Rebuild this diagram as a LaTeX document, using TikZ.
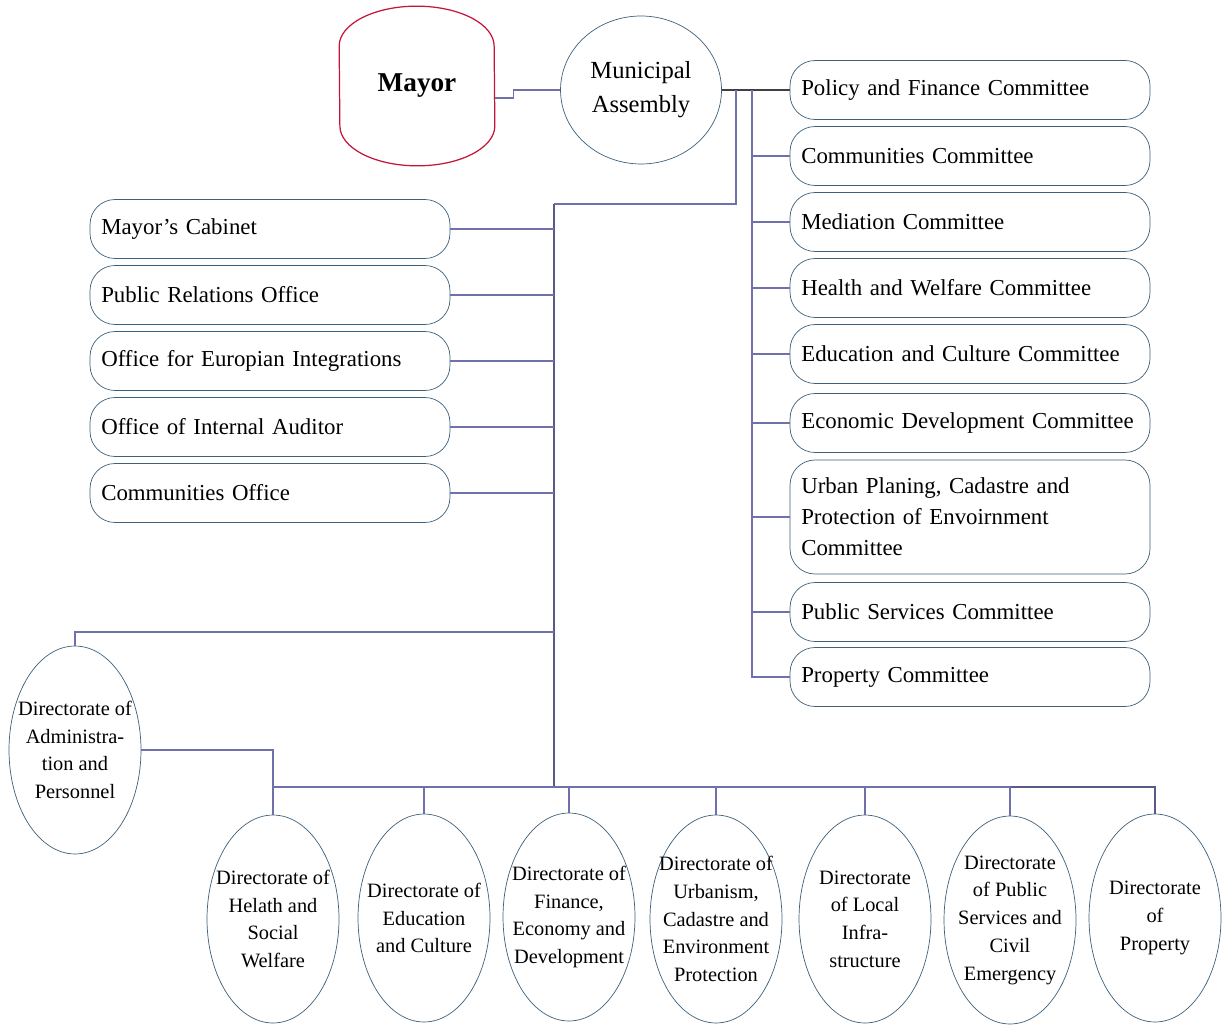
\documentclass[tikz,border=0pt]{standalone}
\usepackage{fontspec}
\setmainfont{Liberation Serif}
\usepackage{tikz}
\usetikzlibrary{positioning, shapes.geometric}

\definecolor{linkblue}{RGB}{112,112,170}
\definecolor{edgeblue}{RGB}{62,96,122}
\definecolor{mayorred}{RGB}{196,20,56}
\definecolor{darkline}{RGB}{64,64,72}

\tikzset{
    comm/.style={draw=edgeblue, rounded corners=0.5cm, minimum height=1.18cm, text width=6.75cm, inner xsep=0.225cm, align=left, font=\fontsize{13}{17.6}\selectfont},
    dir/.style={draw=edgeblue, ellipse, minimum width=2.64cm, minimum height=4.16cm, inner sep=0pt},
    dirtext/.style={align=center, font=\fontsize{11.6}{15.8}\selectfont},
    link/.style={draw=linkblue, line width=0.6pt},
    trunk/.style={draw=linkblue!80!black, line width=0.9pt}
}

\begin{document}
\begin{tikzpicture}[x=0.02cm, y=-0.02cm]
                    \useasboundingbox (0,0) rectangle (1226,1026);
                    \node[font=\fontsize{15.5}{18}\selectfont\bfseries, minimum width=3.1cm, minimum height=3.18cm] (mayor) at (417,86) {Mayor};
                    \draw[mayorred, line width=0.7pt] ([yshift=-0.8cm]mayor.north west) arc[start angle=180, end angle=0, x radius=1.55cm, y radius=0.8cm] -- ([yshift=0.8cm]mayor.south east) arc[start angle=0, end angle=-180, x radius=1.55cm, y radius=0.8cm] -- cycle;
                    \node[draw=edgeblue, ellipse, minimum width=3.22cm, minimum height=2.96cm, inner sep=0pt, align=center, font=\fontsize{14}{19.3}\selectfont] (assembly) at (641,90) {Municipal\\Assembly};
                    \draw[link] (mayor.east) ++(0,12) -- ++(19,0) |- (assembly.west);

                    \node[comm] (policy) at (970,90) {Policy and Finance Committee};
                    \node[comm] (commcom) at (970,156) {Communities Committee};
                    \node[comm] (mediation) at (970,222) {Mediation Committee};
                    \node[comm] (welfare) at (970,288) {Health and Welfare Committee};
                    \node[comm] (culture) at (970,354) {Education and Culture Committee};
                    \node[comm] (economy) at (970,423) {Economic Development Committee};
                    \node[comm, minimum height=2.28cm] (urban) at (970,517) {Urban Planing, Cadastre and\\Protection of Envoirnment\\Committee};
                    \node[comm] (services) at (970,612) {Public Services Committee};
                    \node[comm] (propcom) at (970,677) {Property Committee};

                    \node[comm] (cabinet) at (270,229) {Mayor’s Cabinet};
                    \node[comm] (relations) at (270,295) {Public Relations Office};
                    \node[comm] (europe) at (270,361) {Office for Europian Integrations};
                    \node[comm] (auditor) at (270,427) {Office of Internal Auditor};
                    \node[comm] (commoff) at (270,493) {Communities Office};

                    \node[dir] (admin) at (75,750) {};
                    \node[dirtext] (admin-t) at (admin) {Directorate of\\Administra-\\tion and\\Personnel};
                    \node[dir] (health) at (273,919) {};
                    \node[dirtext] (health-t) at (health) {Directorate of\\Helath and\\Social\\Welfare};
                    \node[dir] (educ) at (424,918) {};
                    \node[dirtext] (educ-t) at (educ) {Directorate of\\Education\\and Culture};
                    \node[dir] (finance) at (569,917) {};
                    \node[dirtext] (finance-t) at (finance) {Directorate of\\Finance,\\Economy and\\Development};
                    \node[dir] (urbanism) at (716,919) {};
                    \node[dirtext] (urbanism-t) at (urbanism) {Directorate of\\Urbanism,\\Cadastre and\\Environment\\Protection};
                    \node[dir] (infra) at (865,919) {};
                    \node[dirtext] (infra-t) at (infra) {Directorate\\of Local\\Infra-\\structure};
                    \node[dir] (public) at (1010,920) {};
                    \node[dirtext] (public-t) at (public) {Directorate\\of Public\\Services and\\Civil\\Emergency};
                    \node[dir] (property) at (1155,918) {};
                    \node[dirtext] (property-t) at (property) {Directorate\\of\\Property};

                    \coordinate (split) at (736,90);
                    \coordinate (cbus) at (752,90);
                    \coordinate (ltop) at (554,204);
                    \coordinate (ajoint) at (554,632);
                    \coordinate (bus) at (554,787);

                    \draw[darkline, line width=0.8pt] (assembly.east) -- (assembly.east -| policy.west);
                    \draw[link] (cbus) |- (propcom.west);
                    \foreach \c in {commcom, mediation, welfare, culture, economy, urban, services}
                        \draw[link] (cbus) |- (\c.west);
                    \draw[link] (split) |- (ltop);
                    \draw[trunk] (ltop) -- (bus);
                    \foreach \o in {cabinet, relations, europe, auditor, commoff}
                        \draw[link] (\o.east) -- (\o.east -| ltop);
                    \draw[link] (ajoint) -| (admin.north);
                    \draw[link] (admin.east) -| (health.north);
                    \draw[trunk] (bus) -| (property.north);
                    \foreach \d in {health, educ, finance, urbanism, infra, public}
                        \draw[link] (bus) -| (\d.north);
                \end{tikzpicture}
\end{document}
